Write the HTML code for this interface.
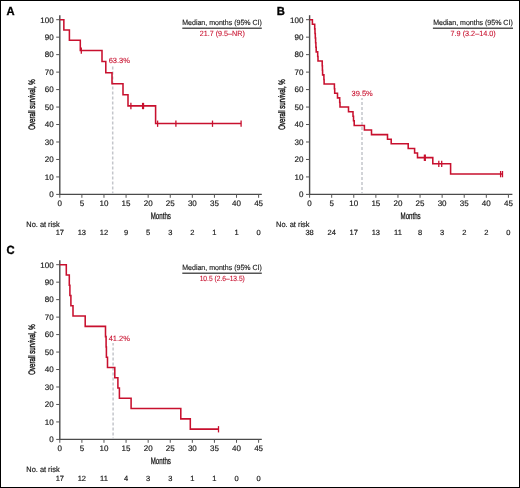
<!DOCTYPE html>
<html><head><meta charset="utf-8"><style>
html,body{margin:0;padding:0;background:#fff;}
body{width:520px;height:488px;overflow:hidden;}
svg{display:block;will-change:transform;}
text{font-family:"Liberation Sans",sans-serif;text-rendering:geometricPrecision;}
.pl{font-size:11.8px;font-weight:bold;fill:#000;stroke:#000;stroke-width:0.35;}
.tl{font-size:8px;fill:#1a1a1a;stroke:#1a1a1a;stroke-width:0.18;}
.cl{font-size:9.4px;fill:#111;stroke:#111;stroke-width:0.28;}
.cy{font-size:9.4px;fill:#111;stroke:#111;stroke-width:0.38;}
.ar{font-size:7.5px;fill:#1a1a1a;stroke:#1a1a1a;stroke-width:0.18;}
.nr{font-size:7.8px;fill:#1a1a1a;stroke:#1a1a1a;stroke-width:0.18;}
.lg{font-size:7.5px;fill:#1a1a1a;stroke:#1a1a1a;stroke-width:0.15;}
.lr{font-size:7.6px;fill:#c8102e;stroke:#c8102e;stroke-width:0.1;}
.pc{font-size:7.5px;fill:#c8102e;stroke:#c8102e;stroke-width:0.1;}
.ax{stroke:#4a4a4a;stroke-width:1.4;fill:none;}
.tk{stroke:#555;stroke-width:1;fill:none;}
.lgl{stroke:#555;stroke-width:1.4;}
.dsh{stroke:#c4c6cb;stroke-width:1.5;stroke-dasharray:3 2;}
.cv{stroke:#c8102e;stroke-width:1.55;fill:none;stroke-linejoin:miter;stroke-linecap:butt;}
.cs{stroke:#c8102e;stroke-width:1.3;}
</style></head><body>
<svg width="520" height="488" viewBox="0 0 520 488">
<rect x="0.5" y="0.5" width="519" height="487" fill="#fff" stroke="#000" stroke-width="1"/>
<text transform="translate(6.5,14.8) scale(0.95,1)" class="pl">A</text>
<line x1="59.8" y1="15.20" x2="59.8" y2="195.00" class="ax"/>
<line x1="59.199999999999996" y1="194.4" x2="261.80" y2="194.4" class="ax"/>
<line x1="56.20" y1="194.40" x2="59.8" y2="194.40" class="tk"/>
<text x="53.60" y="197.25" class="tl" text-anchor="end">0</text>
<line x1="56.20" y1="176.93" x2="59.8" y2="176.93" class="tk"/>
<text x="53.60" y="179.78" class="tl" text-anchor="end">10</text>
<line x1="56.20" y1="159.46" x2="59.8" y2="159.46" class="tk"/>
<text x="53.60" y="162.31" class="tl" text-anchor="end">20</text>
<line x1="56.20" y1="141.99" x2="59.8" y2="141.99" class="tk"/>
<text x="53.60" y="144.84" class="tl" text-anchor="end">30</text>
<line x1="56.20" y1="124.52" x2="59.8" y2="124.52" class="tk"/>
<text x="53.60" y="127.37" class="tl" text-anchor="end">40</text>
<line x1="56.20" y1="107.05" x2="59.8" y2="107.05" class="tk"/>
<text x="53.60" y="109.90" class="tl" text-anchor="end">50</text>
<line x1="56.20" y1="89.58" x2="59.8" y2="89.58" class="tk"/>
<text x="53.60" y="92.43" class="tl" text-anchor="end">60</text>
<line x1="56.20" y1="72.11" x2="59.8" y2="72.11" class="tk"/>
<text x="53.60" y="74.96" class="tl" text-anchor="end">70</text>
<line x1="56.20" y1="54.64" x2="59.8" y2="54.64" class="tk"/>
<text x="53.60" y="57.49" class="tl" text-anchor="end">80</text>
<line x1="56.20" y1="37.17" x2="59.8" y2="37.17" class="tk"/>
<text x="53.60" y="40.02" class="tl" text-anchor="end">90</text>
<line x1="56.20" y1="19.70" x2="59.8" y2="19.70" class="tk"/>
<text x="53.60" y="22.55" class="tl" text-anchor="end">100</text>
<line x1="59.80" y1="194.4" x2="59.80" y2="197.80" class="tk"/>
<text x="59.80" y="206.10" class="tl" text-anchor="middle">0</text>
<line x1="81.89" y1="194.4" x2="81.89" y2="197.80" class="tk"/>
<text x="81.89" y="206.10" class="tl" text-anchor="middle">5</text>
<line x1="103.98" y1="194.4" x2="103.98" y2="197.80" class="tk"/>
<text x="103.98" y="206.10" class="tl" text-anchor="middle">10</text>
<line x1="126.07" y1="194.4" x2="126.07" y2="197.80" class="tk"/>
<text x="126.07" y="206.10" class="tl" text-anchor="middle">15</text>
<line x1="148.16" y1="194.4" x2="148.16" y2="197.80" class="tk"/>
<text x="148.16" y="206.10" class="tl" text-anchor="middle">20</text>
<line x1="170.25" y1="194.4" x2="170.25" y2="197.80" class="tk"/>
<text x="170.25" y="206.10" class="tl" text-anchor="middle">25</text>
<line x1="192.34" y1="194.4" x2="192.34" y2="197.80" class="tk"/>
<text x="192.34" y="206.10" class="tl" text-anchor="middle">30</text>
<line x1="214.43" y1="194.4" x2="214.43" y2="197.80" class="tk"/>
<text x="214.43" y="206.10" class="tl" text-anchor="middle">35</text>
<line x1="236.52" y1="194.4" x2="236.52" y2="197.80" class="tk"/>
<text x="236.52" y="206.10" class="tl" text-anchor="middle">40</text>
<line x1="258.61" y1="194.4" x2="258.61" y2="197.80" class="tk"/>
<text x="258.61" y="206.10" class="tl" text-anchor="middle">45</text>
<text transform="translate(160.80,218.80) scale(0.655,1)" class="cl" text-anchor="middle">Months</text>
<text transform="translate(34.80,104.45) rotate(-90) scale(0.65,1)" class="cy" text-anchor="middle">Overall survival, %</text>
<text transform="translate(26.30,226.90) scale(0.95,1)" class="nr">No. at risk</text>
<text x="59.80" y="234.90" class="ar" text-anchor="middle">17</text>
<text x="81.89" y="234.90" class="ar" text-anchor="middle">13</text>
<text x="103.98" y="234.90" class="ar" text-anchor="middle">12</text>
<text x="126.07" y="234.90" class="ar" text-anchor="middle">9</text>
<text x="148.16" y="234.90" class="ar" text-anchor="middle">5</text>
<text x="170.25" y="234.90" class="ar" text-anchor="middle">3</text>
<text x="192.34" y="234.90" class="ar" text-anchor="middle">2</text>
<text x="214.43" y="234.90" class="ar" text-anchor="middle">1</text>
<text x="236.52" y="234.90" class="ar" text-anchor="middle">1</text>
<text x="258.61" y="234.90" class="ar" text-anchor="middle">0</text>
<text x="222.05" y="25.00" class="lg" text-anchor="middle" textLength="79.6" lengthAdjust="spacingAndGlyphs">Median, months (95% CI)</text>
<line x1="182.30" y1="28.30" x2="261.80" y2="28.30" class="lgl"/>
<text x="222.25" y="36.10" class="lr" text-anchor="middle" textLength="45.2" lengthAdjust="spacingAndGlyphs">21.7 (9.5–NR)</text>
<line x1="112.70" y1="65.50" x2="112.70" y2="193.70" class="dsh" stroke-dashoffset="3.90"/>
<text x="108.70" y="62.90" class="pc">63.3%</text>
<path d="M59.80,19.70H63.85V29.97H69.40V40.24H80.30V50.53H102.00V61.59H105.80V72.65H112.00V83.73H123.00V94.79H128.00V105.86H155.60V123.56H241.10" class="cv"/>
<line x1="81.30" y1="47.53" x2="81.30" y2="53.83" class="cs"/>
<line x1="130.90" y1="102.86" x2="130.90" y2="109.16" class="cs"/>
<line x1="142.60" y1="102.86" x2="142.60" y2="109.16" class="cs"/>
<line x1="143.50" y1="102.86" x2="143.50" y2="109.16" class="cs"/>
<line x1="157.60" y1="120.56" x2="157.60" y2="126.86" class="cs"/>
<line x1="175.90" y1="120.56" x2="175.90" y2="126.86" class="cs"/>
<line x1="212.50" y1="120.56" x2="212.50" y2="126.86" class="cs"/>
<line x1="241.10" y1="120.56" x2="241.10" y2="126.86" class="cs"/>
<text transform="translate(276.7,14.9) scale(0.95,1)" class="pl">B</text>
<line x1="309.6" y1="15.20" x2="309.6" y2="195.00" class="ax"/>
<line x1="309.0" y1="194.4" x2="512.40" y2="194.4" class="ax"/>
<line x1="306.00" y1="194.40" x2="309.6" y2="194.40" class="tk"/>
<text x="303.40" y="197.25" class="tl" text-anchor="end">0</text>
<line x1="306.00" y1="176.93" x2="309.6" y2="176.93" class="tk"/>
<text x="303.40" y="179.78" class="tl" text-anchor="end">10</text>
<line x1="306.00" y1="159.46" x2="309.6" y2="159.46" class="tk"/>
<text x="303.40" y="162.31" class="tl" text-anchor="end">20</text>
<line x1="306.00" y1="141.99" x2="309.6" y2="141.99" class="tk"/>
<text x="303.40" y="144.84" class="tl" text-anchor="end">30</text>
<line x1="306.00" y1="124.52" x2="309.6" y2="124.52" class="tk"/>
<text x="303.40" y="127.37" class="tl" text-anchor="end">40</text>
<line x1="306.00" y1="107.05" x2="309.6" y2="107.05" class="tk"/>
<text x="303.40" y="109.90" class="tl" text-anchor="end">50</text>
<line x1="306.00" y1="89.58" x2="309.6" y2="89.58" class="tk"/>
<text x="303.40" y="92.43" class="tl" text-anchor="end">60</text>
<line x1="306.00" y1="72.11" x2="309.6" y2="72.11" class="tk"/>
<text x="303.40" y="74.96" class="tl" text-anchor="end">70</text>
<line x1="306.00" y1="54.64" x2="309.6" y2="54.64" class="tk"/>
<text x="303.40" y="57.49" class="tl" text-anchor="end">80</text>
<line x1="306.00" y1="37.17" x2="309.6" y2="37.17" class="tk"/>
<text x="303.40" y="40.02" class="tl" text-anchor="end">90</text>
<line x1="306.00" y1="19.70" x2="309.6" y2="19.70" class="tk"/>
<text x="303.40" y="22.55" class="tl" text-anchor="end">100</text>
<line x1="309.60" y1="194.4" x2="309.60" y2="197.80" class="tk"/>
<text x="309.60" y="206.10" class="tl" text-anchor="middle">0</text>
<line x1="331.69" y1="194.4" x2="331.69" y2="197.80" class="tk"/>
<text x="331.69" y="206.10" class="tl" text-anchor="middle">5</text>
<line x1="353.78" y1="194.4" x2="353.78" y2="197.80" class="tk"/>
<text x="353.78" y="206.10" class="tl" text-anchor="middle">10</text>
<line x1="375.87" y1="194.4" x2="375.87" y2="197.80" class="tk"/>
<text x="375.87" y="206.10" class="tl" text-anchor="middle">15</text>
<line x1="397.96" y1="194.4" x2="397.96" y2="197.80" class="tk"/>
<text x="397.96" y="206.10" class="tl" text-anchor="middle">20</text>
<line x1="420.05" y1="194.4" x2="420.05" y2="197.80" class="tk"/>
<text x="420.05" y="206.10" class="tl" text-anchor="middle">25</text>
<line x1="442.14" y1="194.4" x2="442.14" y2="197.80" class="tk"/>
<text x="442.14" y="206.10" class="tl" text-anchor="middle">30</text>
<line x1="464.23" y1="194.4" x2="464.23" y2="197.80" class="tk"/>
<text x="464.23" y="206.10" class="tl" text-anchor="middle">35</text>
<line x1="486.32" y1="194.4" x2="486.32" y2="197.80" class="tk"/>
<text x="486.32" y="206.10" class="tl" text-anchor="middle">40</text>
<line x1="508.41" y1="194.4" x2="508.41" y2="197.80" class="tk"/>
<text x="508.41" y="206.10" class="tl" text-anchor="middle">45</text>
<text transform="translate(410.60,218.80) scale(0.655,1)" class="cl" text-anchor="middle">Months</text>
<text transform="translate(284.60,104.45) rotate(-90) scale(0.65,1)" class="cy" text-anchor="middle">Overall survival, %</text>
<text transform="translate(276.10,226.90) scale(0.95,1)" class="nr">No. at risk</text>
<text x="309.60" y="234.90" class="ar" text-anchor="middle">38</text>
<text x="331.69" y="234.90" class="ar" text-anchor="middle">24</text>
<text x="353.78" y="234.90" class="ar" text-anchor="middle">17</text>
<text x="375.87" y="234.90" class="ar" text-anchor="middle">13</text>
<text x="397.96" y="234.90" class="ar" text-anchor="middle">11</text>
<text x="420.05" y="234.90" class="ar" text-anchor="middle">8</text>
<text x="442.14" y="234.90" class="ar" text-anchor="middle">3</text>
<text x="464.23" y="234.90" class="ar" text-anchor="middle">2</text>
<text x="486.32" y="234.90" class="ar" text-anchor="middle">2</text>
<text x="508.41" y="234.90" class="ar" text-anchor="middle">0</text>
<text x="472.95" y="25.00" class="lg" text-anchor="middle" textLength="79.6" lengthAdjust="spacingAndGlyphs">Median, months (95% CI)</text>
<line x1="432.90" y1="28.30" x2="513.00" y2="28.30" class="lgl"/>
<text x="473.15" y="36.10" class="lr" text-anchor="middle" textLength="45.2" lengthAdjust="spacingAndGlyphs">7.9 (3.2–14.0)</text>
<line x1="362.00" y1="97.90" x2="362.00" y2="193.70" class="dsh" stroke-dashoffset="0.90"/>
<text x="351.50" y="95.60" class="pc">39.5%</text>
<path d="M309.60,19.70H312.40V24.30H314.70V28.89H315.00V33.49H315.30V38.09H315.60V42.69H315.90V47.28H316.20V51.88H317.70V56.48H318.00V61.08H322.20V65.67H322.40V70.27H322.60V74.87H323.90V79.47H324.10V84.06H334.40V88.66H334.70V93.26H337.50V97.86H339.70V102.45H340.00V107.05H348.50V111.65H353.00V116.24H353.50V120.84H354.20V125.44H364.40V130.04H371.50V134.63H387.50V139.23H391.20V143.83H408.20V148.43H414.60V153.02H417.50V157.62H432.80V163.75H450.60V173.97H502.70" class="cv"/>
<line x1="424.40" y1="154.62" x2="424.40" y2="160.92" class="cs"/>
<line x1="425.30" y1="154.62" x2="425.30" y2="160.92" class="cs"/>
<line x1="438.80" y1="160.75" x2="438.80" y2="167.05" class="cs"/>
<line x1="441.70" y1="160.75" x2="441.70" y2="167.05" class="cs"/>
<line x1="500.60" y1="170.97" x2="500.60" y2="177.27" class="cs"/>
<line x1="502.50" y1="170.97" x2="502.50" y2="177.27" class="cs"/>
<text transform="translate(6.6,253.5) scale(0.95,1)" class="pl">C</text>
<line x1="59.8" y1="260.20" x2="59.8" y2="440.00" class="ax"/>
<line x1="59.199999999999996" y1="439.4" x2="261.80" y2="439.4" class="ax"/>
<line x1="56.20" y1="439.40" x2="59.8" y2="439.40" class="tk"/>
<text x="53.60" y="442.25" class="tl" text-anchor="end">0</text>
<line x1="56.20" y1="421.93" x2="59.8" y2="421.93" class="tk"/>
<text x="53.60" y="424.78" class="tl" text-anchor="end">10</text>
<line x1="56.20" y1="404.46" x2="59.8" y2="404.46" class="tk"/>
<text x="53.60" y="407.31" class="tl" text-anchor="end">20</text>
<line x1="56.20" y1="386.99" x2="59.8" y2="386.99" class="tk"/>
<text x="53.60" y="389.84" class="tl" text-anchor="end">30</text>
<line x1="56.20" y1="369.52" x2="59.8" y2="369.52" class="tk"/>
<text x="53.60" y="372.37" class="tl" text-anchor="end">40</text>
<line x1="56.20" y1="352.05" x2="59.8" y2="352.05" class="tk"/>
<text x="53.60" y="354.90" class="tl" text-anchor="end">50</text>
<line x1="56.20" y1="334.58" x2="59.8" y2="334.58" class="tk"/>
<text x="53.60" y="337.43" class="tl" text-anchor="end">60</text>
<line x1="56.20" y1="317.11" x2="59.8" y2="317.11" class="tk"/>
<text x="53.60" y="319.96" class="tl" text-anchor="end">70</text>
<line x1="56.20" y1="299.64" x2="59.8" y2="299.64" class="tk"/>
<text x="53.60" y="302.49" class="tl" text-anchor="end">80</text>
<line x1="56.20" y1="282.17" x2="59.8" y2="282.17" class="tk"/>
<text x="53.60" y="285.02" class="tl" text-anchor="end">90</text>
<line x1="56.20" y1="264.70" x2="59.8" y2="264.70" class="tk"/>
<text x="53.60" y="267.55" class="tl" text-anchor="end">100</text>
<line x1="59.80" y1="439.4" x2="59.80" y2="442.80" class="tk"/>
<text x="59.80" y="451.10" class="tl" text-anchor="middle">0</text>
<line x1="81.89" y1="439.4" x2="81.89" y2="442.80" class="tk"/>
<text x="81.89" y="451.10" class="tl" text-anchor="middle">5</text>
<line x1="103.98" y1="439.4" x2="103.98" y2="442.80" class="tk"/>
<text x="103.98" y="451.10" class="tl" text-anchor="middle">10</text>
<line x1="126.07" y1="439.4" x2="126.07" y2="442.80" class="tk"/>
<text x="126.07" y="451.10" class="tl" text-anchor="middle">15</text>
<line x1="148.16" y1="439.4" x2="148.16" y2="442.80" class="tk"/>
<text x="148.16" y="451.10" class="tl" text-anchor="middle">20</text>
<line x1="170.25" y1="439.4" x2="170.25" y2="442.80" class="tk"/>
<text x="170.25" y="451.10" class="tl" text-anchor="middle">25</text>
<line x1="192.34" y1="439.4" x2="192.34" y2="442.80" class="tk"/>
<text x="192.34" y="451.10" class="tl" text-anchor="middle">30</text>
<line x1="214.43" y1="439.4" x2="214.43" y2="442.80" class="tk"/>
<text x="214.43" y="451.10" class="tl" text-anchor="middle">35</text>
<line x1="236.52" y1="439.4" x2="236.52" y2="442.80" class="tk"/>
<text x="236.52" y="451.10" class="tl" text-anchor="middle">40</text>
<line x1="258.61" y1="439.4" x2="258.61" y2="442.80" class="tk"/>
<text x="258.61" y="451.10" class="tl" text-anchor="middle">45</text>
<text transform="translate(160.80,463.80) scale(0.655,1)" class="cl" text-anchor="middle">Months</text>
<text transform="translate(34.80,349.45) rotate(-90) scale(0.65,1)" class="cy" text-anchor="middle">Overall survival, %</text>
<text transform="translate(26.30,472.40) scale(0.95,1)" class="nr">No. at risk</text>
<text x="59.80" y="480.90" class="ar" text-anchor="middle">17</text>
<text x="81.89" y="480.90" class="ar" text-anchor="middle">12</text>
<text x="103.98" y="480.90" class="ar" text-anchor="middle">11</text>
<text x="126.07" y="480.90" class="ar" text-anchor="middle">4</text>
<text x="148.16" y="480.90" class="ar" text-anchor="middle">3</text>
<text x="170.25" y="480.90" class="ar" text-anchor="middle">3</text>
<text x="192.34" y="480.90" class="ar" text-anchor="middle">1</text>
<text x="214.43" y="480.90" class="ar" text-anchor="middle">1</text>
<text x="236.52" y="480.90" class="ar" text-anchor="middle">0</text>
<text x="258.61" y="480.90" class="ar" text-anchor="middle">0</text>
<text x="222.05" y="270.00" class="lg" text-anchor="middle" textLength="79.6" lengthAdjust="spacingAndGlyphs">Median, months (95% CI)</text>
<line x1="182.30" y1="273.30" x2="261.80" y2="273.30" class="lgl"/>
<text x="222.25" y="281.10" class="lr" text-anchor="middle" textLength="45.2" lengthAdjust="spacingAndGlyphs">10.5 (2.6–13.5)</text>
<line x1="113.10" y1="343.00" x2="113.10" y2="438.70" class="dsh" stroke-dashoffset="0.50"/>
<text x="108.70" y="340.50" class="pc">41.2%</text>
<path d="M59.80,264.70H66.30V274.98H69.30V285.25H69.90V295.53H70.90V305.81H73.00V316.08H85.20V326.36H105.50V336.64H106.10V346.91H106.40V357.19H107.50V367.46H114.80V377.74H117.90V388.02H119.40V398.29H131.10V408.57H180.80V418.85H190.30V429.12H218.50" class="cv"/>
<line x1="218.50" y1="426.12" x2="218.50" y2="432.42" class="cs"/>
</svg>
</body></html>
